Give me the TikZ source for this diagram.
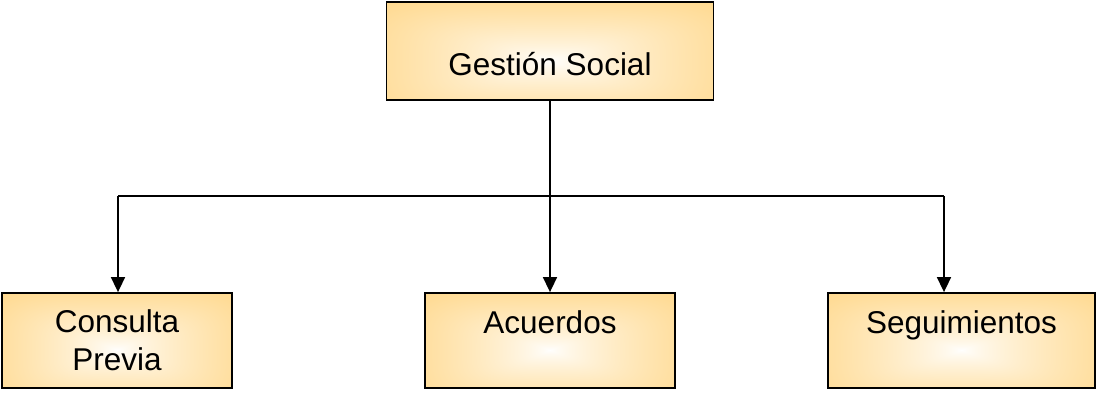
\documentclass[tikz,border=0pt]{standalone}
\usepackage{fontspec}
\setmainfont{Liberation Sans}
\usetikzlibrary{arrows.meta}
% white in the middle, orange towards the edges
\pgfdeclarefunctionalshading{boxglow}{\pgfpointorigin}{\pgfpoint{100bp}{100bp}}{}{
  45 sub 55 div dup mul dup mul exch 50 sub 50 div dup mul dup mul
  add sqrt sqrt
  dup 1 gt {pop 1} if
  0.75 exp
  dup 0.21 mul neg 1 add exch 0.62 mul neg 1 add 1 3 1 roll
}

\begin{document}
\begin{tikzpicture}[x=1pt, y=1pt, >={Triangle[width=14pt,length=15pt]},
    box/.style={draw, line width=1.8pt, shading=boxglow, inner xsep=0pt, inner ysep=0pt, align=center, font=\fontsize{31.5}{38}\selectfont},
    link/.style={line width=1.6pt}]
    \useasboundingbox (0,0) rectangle (1097,392);
    \node[box, anchor=base, minimum width=327pt, text height=73pt, text depth=25pt] (gs) at (550,317) {Gestión Social};
    \node[box, anchor=base, minimum width=230pt, text height=77pt, text depth=18pt] (cp) at (117,22) {Consulta\\Previa};
    \node[box, anchor=base, minimum width=250pt, text height=40pt, text depth=55pt] (ac) at (550,59) {Acuerdos};
    \node[box, anchor=base, minimum width=267pt, text height=40pt, text depth=55pt] (sg) at (961.5,59) {Seguimientos};
    \coordinate (busL) at (118,196);
    \coordinate (busR) at (944,196);
    \draw[link] (gs.south) -- (gs.south |- busL);
    \draw[link] (busL) -- (busR);
    \draw[link, ->] (busL) -- (busL |- cp.north);
    \draw[link, ->] (ac.north |- busL) -- (ac.north);
    \draw[link, ->] (busR) -- (busR |- sg.north);
  \end{tikzpicture}
\end{document}
